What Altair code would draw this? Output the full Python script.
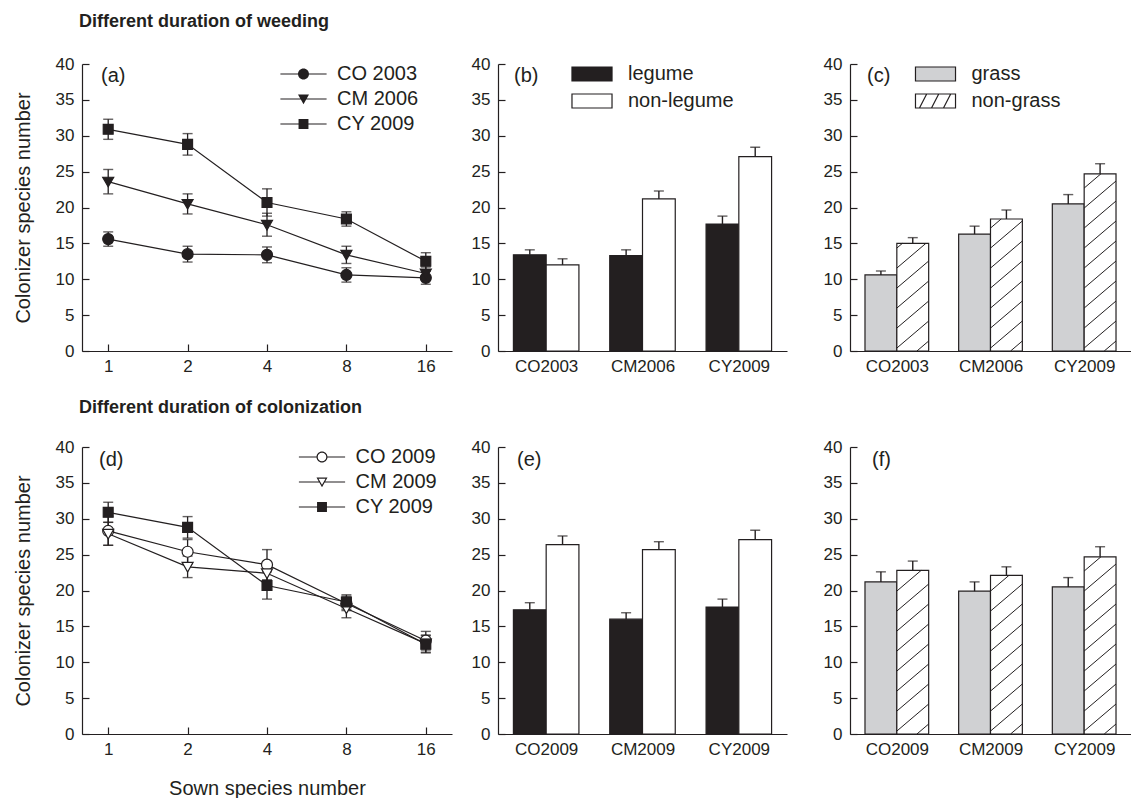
import json
import altair as alt
import pandas as pd

FONT = "Liberation Sans"
INK = "#231f20"
GREY = "#d0d1d3"

# ---------------- data ----------------
sown = [1, 2, 4, 8, 16]

a_names = ["CO 2003", "CM 2006", "CY 2009"]
a_co = [15.6, 13.5, 13.4, 10.6, 10.2]
a_co_se = [1.0, 1.1, 1.1, 1.0, 0.9]
a_cm = [23.6, 20.5, 17.6, 13.4, 10.8]
a_cm_se = [1.7, 1.4, 1.6, 1.2, 0.9]
a_cy = [30.9, 28.8, 20.7, 18.4, 12.5]
a_cy_se = [1.4, 1.5, 1.9, 1.0, 1.2]

d_names = ["CO 2009", "CM 2009", "CY 2009"]
d_co = [28.3, 25.4, 23.6, 18.2, 13.0]
d_co_se = [2.0, 1.7, 2.1, 1.0, 1.3]
d_cm = [27.9, 23.3, 22.4, 17.5, 12.6]
d_cm_se = [1.6, 1.5, 1.5, 1.3, 1.2]
d_cy = [30.9, 28.8, 20.7, 18.4, 12.5]
d_cy_se = [1.4, 1.5, 1.9, 1.0, 1.2]

b_cats = ["CO2003", "CM2006", "CY2009"]
b_legume = [13.4, 13.3, 17.7]
b_legume_se = [0.7, 0.8, 1.1]
b_nonlegume = [12.0, 21.2, 27.1]
b_nonlegume_se = [0.85, 1.1, 1.3]

c_grass = [10.6, 16.3, 20.5]
c_grass_se = [0.55, 1.1, 1.3]
c_nongrass = [15.0, 18.4, 24.7]
c_nongrass_se = [0.8, 1.25, 1.4]

e_cats = ["CO2009", "CM2009", "CY2009"]
e_legume = [17.3, 16.0, 17.7]
e_legume_se = [1.0, 0.9, 1.1]
e_nonlegume = [26.4, 25.7, 27.1]
e_nonlegume_se = [1.2, 1.1, 1.3]

f_grass = [21.2, 19.9, 20.5]
f_grass_se = [1.4, 1.3, 1.3]
f_nongrass = [22.8, 22.1, 24.7]
f_nongrass_se = [1.3, 1.2, 1.4]

legume_names = ["legume", "non-legume"]
grass_names = ["grass", "non-grass"]

# ---------------- geometry / styles ----------------
W_LINE, W_B, W_C, H = 370, 289, 281, 287
YDOM = [0, 40]
YTICKS = list(range(0, 41, 5))

CIRCLE = "M1,0A1,1,0,1,1,-1,0A1,1,0,1,1,1,0Z"
TRI = "M-1,-0.8L1,-0.8L0,0.95Z"
SQUARE = "M-0.9,-0.9H0.9V0.9H-0.9Z"

LINE_FULL = "M-4.2,-0.11H4.2V0.11H-4.2Z"
LEG_CIRCLE = LINE_FULL + CIRCLE
LEG_TRI = LINE_FULL + TRI
LEG_SQUARE = LINE_FULL + SQUARE
LEG_OCIRCLE = ("M-4.2,-0.11H-0.95V0.11H-4.2Z M0.95,-0.11H4.2V0.11H0.95Z " + CIRCLE +
               "M0.78,0A0.78,0.78,0,1,0,-0.78,0A0.78,0.78,0,1,0,0.78,0Z")
LEG_OTRI = ("M-4.2,-0.11H-0.5V0.11H-4.2Z M0.5,-0.11H4.2V0.11H0.5Z " + TRI +
            "M-0.64,-0.6L0,0.5L0.64,-0.6Z")

RECT_LEG = "M-2.86,-1H2.86V1H-2.86Z"
HATCH_LEG = RECT_LEG + " M-2.29,1L-1.26,-1 M-0.57,1L0.46,-1 M1.14,1L2.17,-1"


def y_enc(field, title=None):
    return alt.Y(field, title=title,
                 scale=alt.Scale(domain=YDOM, nice=False, zero=True),
                 axis=alt.Axis(values=YTICKS, tickSize={"expr": "-7"}, labelPadding=15,
                               title=title, titlePadding=22))


def panel_label(text, dx, dy):
    return alt.Chart(pd.DataFrame({"t": [text]})).mark_text(
        align="left", baseline="middle", fontSize=20, font=FONT, color=INK
    ).encode(text="t:N", x=alt.value(dx), y=alt.value(dy))


def line_panel(names, means, ses, shapes, fills, leg_paths, label, lab_dx, lab_dy,
               leg_x, leg_y, ytitle, xtitle):
    rows = []
    for name, m, s in zip(names, means, ses):
        for xv, mv, sv in zip(sown, m, s):
            rows.append(dict(sown=xv, series=name, mean=mv, lo=mv - sv, hi=mv + sv))
    df = pd.DataFrame(rows)
    xax = alt.Axis(labelAngle=0, tickSize={"expr": "-7"}, labelPadding=14,
                   title=xtitle, titlePadding=21)

    def X():
        return alt.X("sown:O", sort=sown, title=xtitle,
                     scale=alt.Scale(type="point", padding=0.33), axis=xax)

    base = alt.Chart(df)
    lines = base.mark_line(color=INK, strokeWidth=1.2).encode(
        x=X(), y=y_enc("mean:Q", ytitle), detail="series:N")
    err = base.mark_rule(color=INK, strokeWidth=1.3).encode(
        x=X(), y=y_enc("lo:Q", ytitle), y2="hi:Q")
    cap_hi = base.mark_tick(orient="horizontal", size=10, thickness=1.4, color=INK).encode(
        x=X(), y=y_enc("hi:Q", ytitle))
    cap_lo = base.mark_tick(orient="horizontal", size=10, thickness=1.4, color=INK).encode(
        x=X(), y=y_enc("lo:Q", ytitle))
    layers = [lines, err, cap_hi, cap_lo]
    for name, shp, fc in zip(names, shapes, fills):
        layers.append(
            base.transform_filter(alt.datum.series == name).mark_point(
                shape=shp, size=121, filled=True, fill=fc, stroke=INK,
                strokeWidth=1.2, opacity=1
            ).encode(x=X(), y=y_enc("mean:Q", ytitle))
        )
    legend = base.transform_filter("false").mark_point(
        filled=True, color=INK, size=121, strokeWidth=0, opacity=1
    ).encode(
        x=X(), y=y_enc("mean:Q", ytitle),
        shape=alt.Shape("series:N",
                        scale=alt.Scale(domain=names, range=leg_paths),
                        legend=alt.Legend(title=None, orient="none", legendX=leg_x, legendY=leg_y,
                                          labelFontSize=20, labelFont=FONT, labelColor=INK,
                                          labelOffset=23.5, rowPadding=5, symbolSize=121,
                                          symbolFillColor=INK, symbolStrokeWidth=0,
                                          symbolOpacity=1)),
    )
    layers.append(legend)
    layers.append(panel_label(label, lab_dx, lab_dy))
    return alt.layer(*layers).resolve_scale(shape="independent").properties(width=W_LINE, height=H)


def hatch_segments(xa, xb, h, kx, ky, spacing=20.0, slope=0.85):
    segs = []
    xa_p, xb_p, h_p = xa * kx, xb * kx, h * ky
    bw = xb_p - xa_p
    c = -slope * bw + spacing * 0.5
    while c < h_p:
        x_lo = max(xa_p, xa_p + (0 - c) / slope)
        x_hi = min(xb_p, xa_p + (h_p - c) / slope)
        if x_hi - x_lo > 0.5:
            y_lo = c + (x_lo - xa_p) * slope
            y_hi = c + (x_hi - xa_p) * slope
            segs.append(dict(hx1=x_lo / kx, hy1=y_lo / ky, hx2=x_hi / kx, hy2=y_hi / ky))
        c += spacing
    return segs


def bar_panel(cats, v1, s1, v2, s2, names, fills, hatch, label, lab_dx, lab_dy,
              width, ytitle=None, leg=None):
    n = len(cats)
    rows = []
    for i, cat in enumerate(cats):
        rows.append(dict(cat=cat, type=names[0], x0=i + 0.16, x1=i + 0.5, xc=i + 0.33,
                         v=v1[i], top=v1[i] + s1[i]))
        rows.append(dict(cat=cat, type=names[1], x0=i + 0.5, x1=i + 0.84, xc=i + 0.67,
                         v=v2[i], top=v2[i] + s2[i]))
    df = pd.DataFrame(rows)
    label_expr = json.dumps(cats) + "[round(datum.value - 0.5)]"
    xax = alt.Axis(values=[i + 0.5 for i in range(n)], labelExpr=label_expr, ticks=False,
                   labelPadding=7, title=None, labelAngle=0)
    xs = alt.Scale(domain=[0, n], nice=False, zero=False)

    def X(f):
        return alt.X(f, title=None, scale=xs, axis=xax)

    base = alt.Chart(df)
    layers = []
    for k in range(2):
        layers.append(
            base.transform_filter(alt.datum.type == names[k]).mark_rect(
                fill=fills[k], stroke=INK, strokeWidth=1.2
            ).encode(x=X("x0:Q"), x2="x1:Q", y=y_enc("v:Q", ytitle), y2=alt.datum(0))
        )
    if hatch:
        kx = width / n
        ky = H / (YDOM[1] - YDOM[0])
        segs = []
        for r in rows:
            if r["type"] == names[1]:
                segs += hatch_segments(r["x0"], r["x1"], r["v"], kx, ky)
        hdf = pd.DataFrame(segs)
        layers.append(
            alt.Chart(hdf).mark_rule(color=INK, strokeWidth=1.0).encode(
                x=X("hx1:Q"), y=y_enc("hy1:Q", ytitle), x2="hx2:Q", y2="hy2:Q")
        )
    layers.append(base.mark_rule(color=INK, strokeWidth=1.4).encode(
        x=X("xc:Q"), y=y_enc("v:Q", ytitle), y2="top:Q"))
    layers.append(base.mark_tick(orient="horizontal", size=10, thickness=1.4, color=INK).encode(
        x=X("xc:Q"), y=y_enc("top:Q", ytitle)))
    if leg is not None:
        leg_x, leg_y, paths = leg
        lg = alt.Legend(title=None, orient="none", legendX=leg_x, legendY=leg_y,
                        labelFontSize=20, labelFont=FONT, labelColor=INK, labelOffset=26,
                        rowPadding=7, symbolSize=196, symbolStrokeColor=INK,
                        symbolStrokeWidth=1.2, symbolOpacity=1)
        layers.append(
            base.transform_filter("false").mark_point(
                filled=True, strokeWidth=1.2, size=196, opacity=1
            ).encode(
                x=X("xc:Q"), y=y_enc("v:Q", ytitle),
                fill=alt.Fill("type:N", scale=alt.Scale(domain=names, range=fills), legend=lg),
                stroke=alt.Stroke("type:N", scale=alt.Scale(domain=names, range=[INK, INK]),
                                  legend=lg),
                shape=alt.Shape("type:N", scale=alt.Scale(domain=names, range=paths), legend=lg),
            )
        )
    layers.append(panel_label(label, lab_dx, lab_dy))
    return alt.layer(*layers).properties(width=width, height=H)


YT = "Colonizer species number"

pa = line_panel(a_names, [a_co, a_cm, a_cy], [a_co_se, a_cm_se, a_cy_se],
                [CIRCLE, TRI, SQUARE], [INK, INK, INK],
                [LEG_CIRCLE, LEG_TRI, LEG_SQUARE], "(a)", 19, 12, 211.5, 0, YT, None)
pd_ = line_panel(d_names, [d_co, d_cm, d_cy], [d_co_se, d_cm_se, d_cy_se],
                 [CIRCLE, TRI, SQUARE], ["white", "white", INK],
                 [LEG_OCIRCLE, LEG_OTRI, LEG_SQUARE], "(d)", 17, 13, 230, 0, YT,
                 "Sown species number")

pb = bar_panel(b_cats, b_legume, b_legume_se, b_nonlegume, b_nonlegume_se,
               legume_names, [INK, "white"], False, "(b)", 16, 12, W_B,
               leg=(84, 0, [RECT_LEG, RECT_LEG]))
pc = bar_panel(b_cats, c_grass, c_grass_se, c_nongrass, c_nongrass_se,
               grass_names, [GREY, "white"], True, "(c)", 17, 12, W_C,
               leg=(75.5, 0, [RECT_LEG, HATCH_LEG]))
pe = bar_panel(e_cats, e_legume, e_legume_se, e_nonlegume, e_nonlegume_se,
               legume_names, [INK, "white"], False, "(e)", 19, 13, W_B)
pf = bar_panel(e_cats, f_grass, f_grass_se, f_nongrass, f_nongrass_se,
               grass_names, [GREY, "white"], True, "(f)", 22, 13, W_C)


def row(p1, p2, p3, title, offset):
    inner = alt.hconcat(p2, p3, spacing=63, bounds="flush").resolve_scale(
        fill="independent", shape="independent", stroke="independent")
    return alt.hconcat(p1, inner, spacing=46, bounds="flush",
                       title=alt.TitleParams(title, anchor="start", frame="group", fontSize=18,
                                             fontWeight="bold", font=FONT, color=INK,
                                             offset=offset, dx=-3)
                       ).resolve_scale(fill="independent", shape="independent",
                                       stroke="independent")


top = row(pa, pb, pc, "Different duration of weeding", 24)
bottom = row(pd_, pe, pf, "Different duration of colonization", 21)

chart = alt.vconcat(top, bottom, spacing=25).resolve_scale(
    fill="independent", shape="independent", stroke="independent"
).properties(
    padding={"left": 13, "top": 13, "right": 0, "bottom": 0}
).configure_view(stroke=None).configure_axis(
    domainColor=INK, domainWidth=1.2, tickColor=INK, tickWidth=1.2,
    labelColor=INK, labelFont=FONT, labelFontSize=17,
    titleFont=FONT, titleFontSize=20, titleFontWeight="normal", titleColor=INK,
    grid=False,
)

chart.save("out.html", embed_options={"renderer": "svg", "actions": False})
